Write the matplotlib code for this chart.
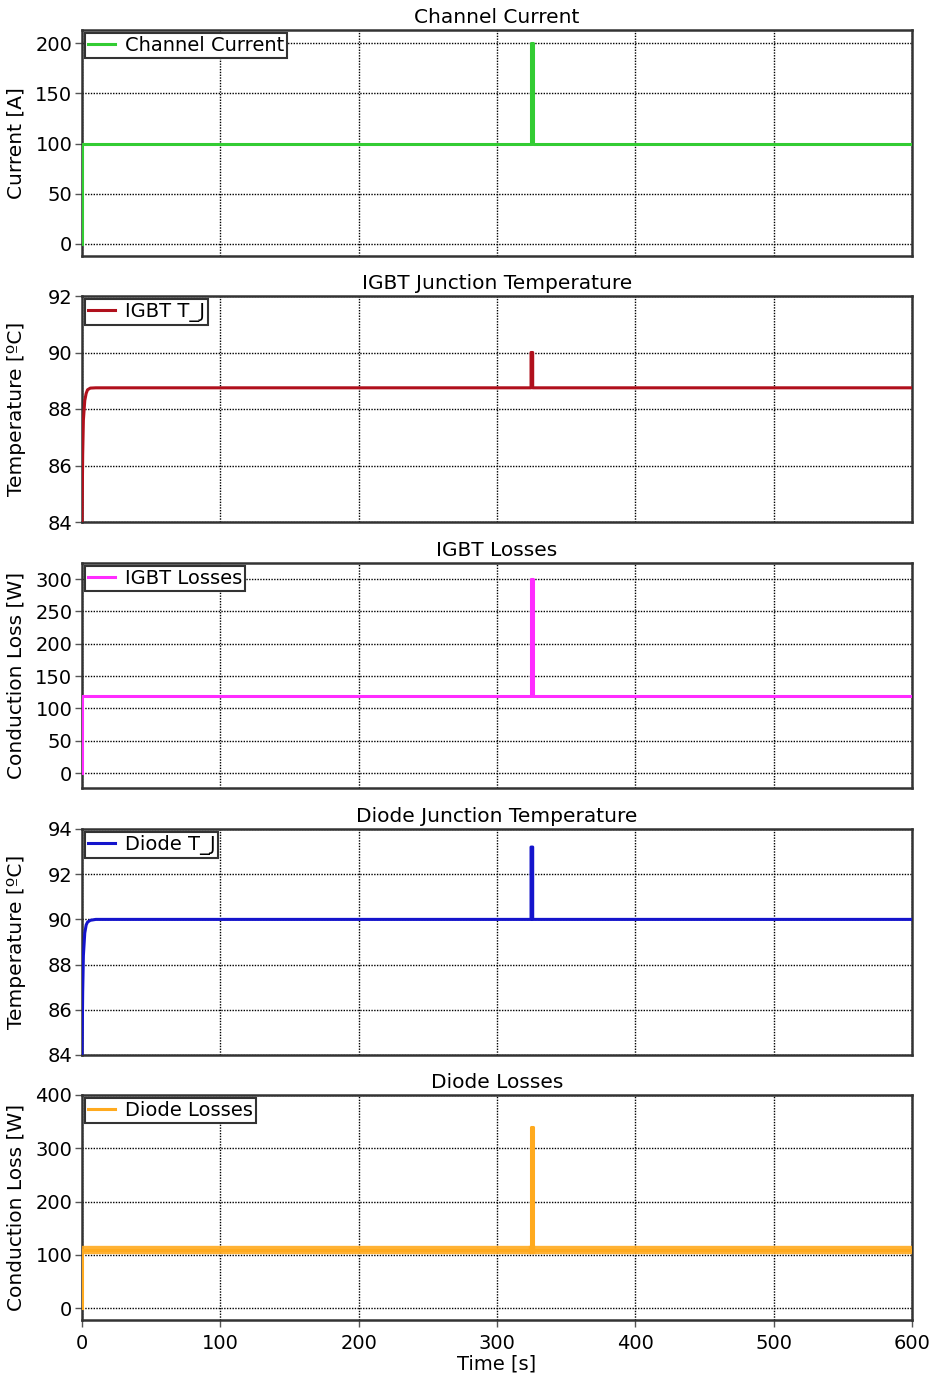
import matplotlib
matplotlib.use("Agg")
import matplotlib.pyplot as plt

# ---------------------------------------------------------------------------
# data (time in s)
# ---------------------------------------------------------------------------
t_current = [0, 0, 324.6, 324.6, 325.8, 325.8, 600]
current = [0, 100, 100, 200, 200, 100, 100]

t_igbt_tj = [0, 0.5, 1, 2, 3, 4, 6, 10, 324.6, 324.6, 325.8, 325.8, 600]
igbt_tj = [84, 86.4, 87.6, 88.3, 88.55, 88.68, 88.74, 88.75, 88.75, 90.0, 90.0, 88.75, 88.75]

t_igbt_loss = [0, 0, 324.6, 324.6, 325.8, 325.8, 600]
igbt_loss = [0, 120, 120, 300, 300, 120, 120]

t_diode_tj = [0, 0.5, 1, 2, 3, 4, 6, 10, 324.6, 324.6, 325.8, 325.8, 600]
diode_tj = [84, 86.8, 88.4, 89.4, 89.75, 89.88, 89.96, 90.0, 90.0, 93.2, 93.2, 90.0, 90.0]

t_diode_loss = [0, 0, 324.6, 324.6, 325.8, 325.8, 600]
diode_loss = [0, 109, 109, 340, 340, 109, 109]

panels = [
    # (title, x, y, legend, colour, ylabel, ylim, yticks)
    ("Channel Current", t_current, current, "Channel Current", "#33cc33",
     "Current [A]", (-12, 213), [0, 50, 100, 150, 200]),
    ("IGBT Junction Temperature", t_igbt_tj, igbt_tj, "IGBT T_J", "#b0101c",
     "Temperature [ºC]", (84, 92), [84, 86, 88, 90, 92]),
    ("IGBT Losses", t_igbt_loss, igbt_loss, "IGBT Losses", "#ff2cff",
     "Conduction Loss [W]", (-23, 325), [0, 50, 100, 150, 200, 250, 300]),
    ("Diode Junction Temperature", t_diode_tj, diode_tj, "Diode T_J", "#1414cc",
     "Temperature [ºC]", (84, 94), [84, 86, 88, 90, 92, 94]),
    ("Diode Losses", t_diode_loss, diode_loss, "Diode Losses", "#ffaa1e",
     "Conduction Loss [W]", (-22.5, 400), [0, 100, 200, 300, 400]),
]

plt.rcParams['font.family'] = ['DejaVu Sans']

fig = plt.figure(figsize=(9.33, 13.82), dpi=100)

# axes boxes in figure pixels: top / bottom edges of each panel
tops = [30, 296, 563, 829, 1095]
bottoms = [256, 522, 788, 1055, 1320]
W, H = 933.0, 1382.0
left, right = 82, 912

for i, (title, x, y, lab, col, ylab, ylim, yticks) in enumerate(panels):
    ax = fig.add_axes([left / W, 1 - bottoms[i] / H,
                       (right - left) / W, (bottoms[i] - tops[i]) / H])
    if lab == "Diode Losses":
        # the steady part looks like a thick band in the original (ripple)
        ax.plot(x, y, color=col, linewidth=2.2, zorder=3)
        ax.plot(x[1:3], y[1:3], color=col, linewidth=6, zorder=3, alpha=0.9)
        ax.plot(x[-2:], y[-2:], color=col, linewidth=6, zorder=3, alpha=0.9)
        ax.plot([], [], color=col, linewidth=2.2, label=lab)
    else:
        ax.plot(x, y, color=col, linewidth=2.2, label=lab, zorder=3)

    ax.set_xlim(0, 600)
    ax.set_ylim(*ylim)
    ax.set_yticks(yticks)
    ax.set_xticks([0, 100, 200, 300, 400, 500, 600])
    ax.grid(True, color='black', linestyle=(0, (1, 1)), linewidth=1.0)
    ax.set_axisbelow(True)

    for sp in ax.spines.values():
        sp.set_color('#333333')
        sp.set_linewidth(1.8)

    ax.tick_params(axis='both', direction='out', length=5, width=1,
                   color='#555555', labelsize=14, pad=2)
    if i < len(panels) - 1:
        ax.tick_params(axis='x', labelbottom=False, length=0)
    else:
        ax.tick_params(axis='x', pad=5)
        ax.set_xlabel("Time [s]", fontsize=14, labelpad=1)

    ax.set_title(title, fontsize=14.5, pad=5)
    ax.set_ylabel(ylab, fontsize=14.5)
    ax.yaxis.set_label_coords(-0.068, 0.5)

    leg = ax.legend(loc='upper left', fontsize=14, handlelength=1.4,
                    handletextpad=0.5, borderaxespad=0.15, borderpad=0.15,
                    fancybox=False, framealpha=1)
    leg.get_frame().set_edgecolor('#333333')
    leg.get_frame().set_linewidth(1.5)

fig.savefig("out.png", dpi=100)
